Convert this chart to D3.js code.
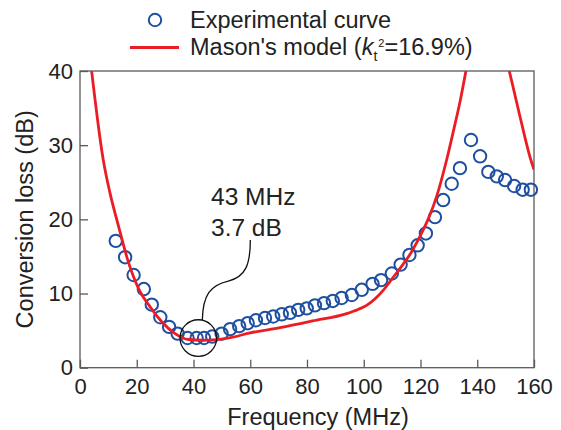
<!DOCTYPE html>
<html>
<head>
<meta charset="utf-8">
<script src="https://cdn.jsdelivr.net/npm/d3@7"></script>
<style>
  body { margin: 0; background: #ffffff; }
  text { font-family: "Liberation Sans", Arial, sans-serif; fill: #222222; }
</style>
</head>
<body>
<script>

// experimental curve (frequency in MHz, conversion loss in dB)
const expFreq = [12.6, 15.9, 18.9, 22.5, 25.3, 28.3, 31.4, 34.4, 37.9, 41.1,
  43.7, 46.6, 49.9, 52.9, 56.1, 59.1, 62.0, 65.2, 68.1, 71.1,
  74.0, 76.9, 79.9, 82.8, 86.0, 89.1, 92.2, 95.8, 99.3, 103.1,
  106.1, 109.9, 113.0, 116.1, 119.0, 121.9, 125.1, 128.0, 131.0, 133.9,
  137.8, 141.0, 143.9, 146.9, 149.8, 153.0, 156.0, 158.9];
const expLoss = [17.1, 14.9, 12.5, 10.6, 8.5, 6.8, 5.5, 4.6, 4.0, 4.0,
  4.0, 4.2, 4.6, 5.2, 5.6, 6.0, 6.4, 6.7, 6.9, 7.2,
  7.4, 7.8, 8.0, 8.4, 8.7, 9.0, 9.4, 9.8, 10.5, 11.3,
  11.8, 12.7, 13.9, 15.2, 16.5, 18.1, 20.3, 22.6, 24.8, 26.9,
  30.7, 28.5, 26.4, 25.8, 25.3, 24.5, 24.0, 24.0];

// mason's model, low branch (leaves the top of the plot near resonance)
const masonFreqA = [4.1, 8.2, 10.6, 13.5, 17.0, 20.6, 24.7, 28.8, 33.5, 38.2,
  43.0, 47.0, 53.0, 60.0, 70.5, 82.0, 94.0, 98.0, 101.0, 104.0,
  107.0, 110.0, 112.8, 116.5, 119.8, 123.0, 125.7, 129.2, 132.2, 134.0,
  136.0];
const masonLossA = [40, 28, 23.5, 19.2, 14.3, 10.7, 8.2, 6.2, 4.6, 3.8,
  3.7, 3.75, 4.05, 4.7, 5.4, 6.3, 7.3, 7.85, 8.4, 9.3,
  10.5, 12.0, 13.4, 15.4, 17.7, 20.3, 23.1, 28.0, 32.9, 36.0,
  40];

// mason's model, high branch
const masonFreqB = [151.3, 155.1, 158.6, 160];
const masonLossB = [40, 33.8, 28.4, 26.7];

// ticks
const xTicks = [0, 20, 40, 60, 80, 100, 120, 140, 160];
const yTicks = [0, 10, 20, 30, 40];

// annotated minimum
const minFreq = 43;
const minLoss = 3.7;
const ringFreq = 41.7;
const ringLoss = 4.0;

function init() {

  const W = 561, H = 430;
  const m = {left: 80, right: 534, top: 71, bottom: 367.7};
  const blue = "#1f4fa0";
  const red = "#ec1c24";
  const axisGrey = "#5a5a5a";

  const svg = d3.select("body").append("svg")
    .attr("width", W)
    .attr("height", H)
  ;

  const x = d3.scaleLinear().domain([0, 160]).range([m.left, m.right]);
  const y = d3.scaleLinear().domain([0, 40]).range([m.bottom, m.top]);

  svg.append("clipPath").attr("id", "plot")
    .append("rect")
    .attr("x", m.left)
    .attr("y", m.top)
    .attr("width", m.right - m.left)
    .attr("height", m.bottom - m.top)
  ;

  // axes, ticks point inward
  const xAxis = svg.append("g")
    .attr("transform", "translate(0," + m.bottom + ")")
    .call(d3.axisBottom(x).tickValues(xTicks).tickSizeInner(-8).tickSizeOuter(0).tickPadding(11))
  ;
  const yAxis = svg.append("g")
    .attr("transform", "translate(" + m.left + ",0)")
    .call(d3.axisLeft(y).tickValues(yTicks).tickSizeInner(-8).tickSizeOuter(0).tickPadding(7))
  ;
  [xAxis, yAxis].forEach(function (g) {
    g.select(".domain").remove();
    g.selectAll(".tick line").attr("stroke", axisGrey).attr("stroke-width", 1.3);
    g.selectAll(".tick text")
      .style("font-family", "'Liberation Sans', Arial, sans-serif")
      .style("font-size", "22px")
      .attr("fill", "#222222");
  });

  // frame
  svg.append("rect")
    .attr("x", m.left)
    .attr("y", m.top)
    .attr("width", m.right - m.left)
    .attr("height", m.bottom - m.top)
    .attr("fill", "none")
    .attr("stroke", axisGrey)
    .attr("stroke-width", 1.3)
  ;

  // axis titles
  svg.append("text")
    .attr("x", 318)
    .attr("y", 425)
    .attr("text-anchor", "middle")
    .style("font-size", "23.5px")
    .text("Frequency (MHz)")
  ;
  svg.append("text")
    .attr("transform", "translate(33," + (m.top + m.bottom) / 2 + ") rotate(-90)")
    .attr("text-anchor", "middle")
    .style("font-size", "23.5px")
    .text("Conversion loss (dB)")
  ;

  // experimental points (open circles)
  const pts = expFreq.map(function (f, i) { return {f: f, v: expLoss[i]}; });
  svg.append("g")
    .selectAll("circle")
    .data(pts)
    .join("circle")
    .attr("cx", function (d) { return x(d.f); })
    .attr("cy", function (d) { return y(d.v); })
    .attr("r", 6.2)
    .attr("fill", "none")
    .attr("stroke", blue)
    .attr("stroke-width", 2)
  ;

  // model lines
  const line = d3.line()
    .x(function (d) { return x(d.f); })
    .y(function (d) { return y(d.v); })
    .curve(d3.curveMonotoneX)
  ;
  const branchA = masonFreqA.map(function (f, i) { return {f: f, v: masonLossA[i]}; });
  const branchB = masonFreqB.map(function (f, i) { return {f: f, v: masonLossB[i]}; });
  [branchA, branchB].forEach(function (b) {
    svg.append("path")
      .datum(b)
      .attr("d", line)
      .attr("clip-path", "url(#plot)")
      .attr("fill", "none")
      .attr("stroke", red)
      .attr("stroke-width", 2.8)
    ;
  });

  // annotation ring and leader
  const rx0 = x(ringFreq), ry0 = y(ringLoss);
  svg.append("circle")
    .attr("cx", rx0)
    .attr("cy", ry0)
    .attr("r", 18.3)
    .attr("fill", "none")
    .attr("stroke", "#111111")
    .attr("stroke-width", 1.3)
  ;
  const lx = rx0 + 4, ly = ry0 - 18;
  svg.append("path")
    .attr("d", "M" + lx + "," + ly +
      " C" + (lx + 0.5) + "," + (ly - 25) + " " + (lx + 8) + "," + (ly - 35) + " " + (lx + 26) + "," + (ly - 39) +
      " C" + (lx + 43) + "," + (ly - 43) + " " + (lx + 48) + "," + (ly - 55) + " " + (lx + 48) + "," + (ly - 80))
    .attr("fill", "none")
    .attr("stroke", "#111111")
    .attr("stroke-width", 1.3)
  ;
  svg.append("text")
    .attr("x", 211)
    .attr("y", 205)
    .style("font-size", "24.5px")
    .text(minFreq + " MHz")
  ;
  svg.append("text")
    .attr("x", 211)
    .attr("y", 236)
    .style("font-size", "24.5px")
    .text(minLoss + " dB")
  ;

  // legend
  svg.append("circle")
    .attr("cx", 155)
    .attr("cy", 20)
    .attr("r", 6.2)
    .attr("fill", "none")
    .attr("stroke", blue)
    .attr("stroke-width", 2)
  ;
  svg.append("text")
    .attr("x", 190)
    .attr("y", 28)
    .style("font-size", "23.5px")
    .text("Experimental curve")
  ;
  svg.append("line")
    .attr("x1", 130)
    .attr("x2", 179)
    .attr("y1", 47.5)
    .attr("y2", 47.5)
    .attr("stroke", red)
    .attr("stroke-width", 2.8)
  ;
  const lg = svg.append("text")
    .attr("x", 190)
    .attr("y", 55)
    .style("font-size", "23.5px")
  ;
  lg.append("tspan").text("Mason's model (");
  lg.append("tspan").style("font-style", "italic").text("k");
  lg.append("tspan").attr("dy", 6).style("font-size", "14px").text("t");
  lg.append("tspan").attr("dy", -14).attr("dx", 1).style("font-size", "11px").text("2");
  lg.append("tspan").attr("dy", 8).text("=16.9%)");
}

init();
</script>
</body>
</html>
